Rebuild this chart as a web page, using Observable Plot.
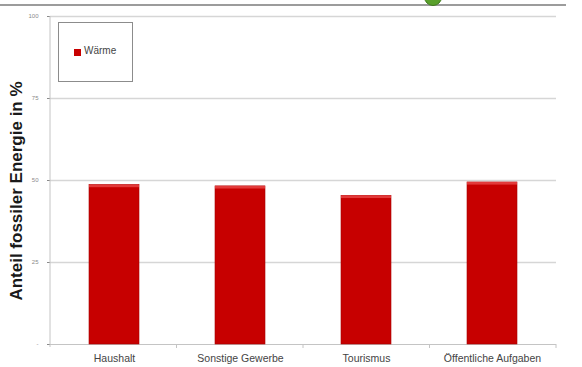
<!DOCTYPE html>
<html>
<head>
<meta charset="utf-8">
<script src="https://cdn.jsdelivr.net/npm/d3@7"></script>
<script src="https://cdn.jsdelivr.net/npm/@observablehq/plot@0.6"></script>
<style>
  body { margin: 0; background: #fff; }
  #wrap { position: relative; width: 582px; height: 367px; overflow: hidden; font-family: "Liberation Sans", Arial, sans-serif; }
  #wrap svg { position: absolute; left: 0; top: 0; }
  .legend { position: absolute; left: 58px; top: 22px; width: 73px; height: 58px; border: 1px solid #8c8c8c; background: #fff; }
  .legend .sw { position: absolute; left: 15px; top: 26px; width: 7px; height: 7px; background: #c80000; }
  .legend .lb { position: absolute; left: 25px; top: 22px; font-size: 10px; color: #444; }
  .topline { position: absolute; left: 0; top: 4px; width: 566px; height: 2px; background: #9c9c9c; }
  .logo { position: absolute; left: 424px; top: -12px; width: 16px; height: 16px; border-radius: 50%; background: #5aa02c; border: 1px solid #3f7a1c; }
</style>
</head>
<body>
<div id="wrap">
  <div class="topline"></div>
  <div class="logo"></div>
</div>
<script>
// Anteil fossiler Energie (Wärme) je Sektor, in Prozent
const categories = ["Haushalt", "Sonstige Gewerbe", "Tourismus", "Öffentliche Aufgaben"];
const waerme = [48.6, 48.2, 45.3, 49.4];
const yTicks = [0, 25, 50, 75, 100];
const seriesName = "Wärme";
const yTitle = "Anteil fossiler Energie in %";

const data = categories.map((c, i) => ({category: c, value: waerme[i]}));

const plot = Plot.plot({
  width: 582,
  height: 367,
  marginLeft: 50,
  marginRight: 26,
  marginTop: 16,
  marginBottom: 23,
  style: {background: "transparent", fontFamily: "Liberation Sans, Arial, sans-serif"},
  x: {domain: categories, paddingInner: 0.6, paddingOuter: 0.3, label: null},
  y: {domain: [0, 100], label: null},
  marks: [
    Plot.ruleY(yTicks.filter(d => d > 0), {stroke: "#d6d6d6", strokeWidth: 1.5}),
    Plot.ruleY([0], {stroke: "#c4c4c4", strokeWidth: 1}),
    Plot.barY(data, {x: "category", y: "value", fill: "#c70000", stroke: "#a80000", strokeWidth: 0.6}),
    // lighter rim along the top of each bar
    Plot.barY(data, {x: "category", y1: d => d.value - 0.8, y2: "value", fill: "#e23a3a"}),
    Plot.axisY({ticks: yTicks, tickFormat: d => d === 0 ? "-" : d, tickSize: 3, tickPadding: 9, fontSize: 6, color: "#8a8a8a", label: null}),
    Plot.axisX({tickSize: 0, tickPadding: 10, fontSize: 10.5, color: "#444", label: null})
  ]
});

document.getElementById("wrap").prepend(plot);

// y axis line and category separator ticks
const svg = d3.select(plot);
const xs = plot.scale("x"), ys = plot.scale("y");
const [x0, x1] = xs.range;
const [yb, yt] = ys.range;
svg.append("line").attr("x1", x0).attr("x2", x0).attr("y1", yt).attr("y2", yb + 3)
  .attr("stroke", "#c4c4c4");
const step = (x1 - x0) / categories.length;
d3.range(1, categories.length + 1).forEach(i => {
  const x = x0 + i * step;
  svg.append("line").attr("x1", x).attr("x2", x).attr("y1", yb).attr("y2", yb + 4).attr("stroke", "#c4c4c4");
});
svg.append("text")
  .attr("transform", `translate(16,${(yt + yb) / 2 + 11}) rotate(-90)`)
  .attr("text-anchor", "middle").attr("dominant-baseline", "central")
  .attr("font-size", 17).attr("font-weight", "bold").attr("fill", "#1a1a1a")
  .text(yTitle);

// legend box
const legend = document.createElement("div");
legend.className = "legend";
legend.innerHTML = `<div class="sw"></div><div class="lb">${seriesName}</div>`;
document.getElementById("wrap").appendChild(legend);
</script>
</body>
</html>
